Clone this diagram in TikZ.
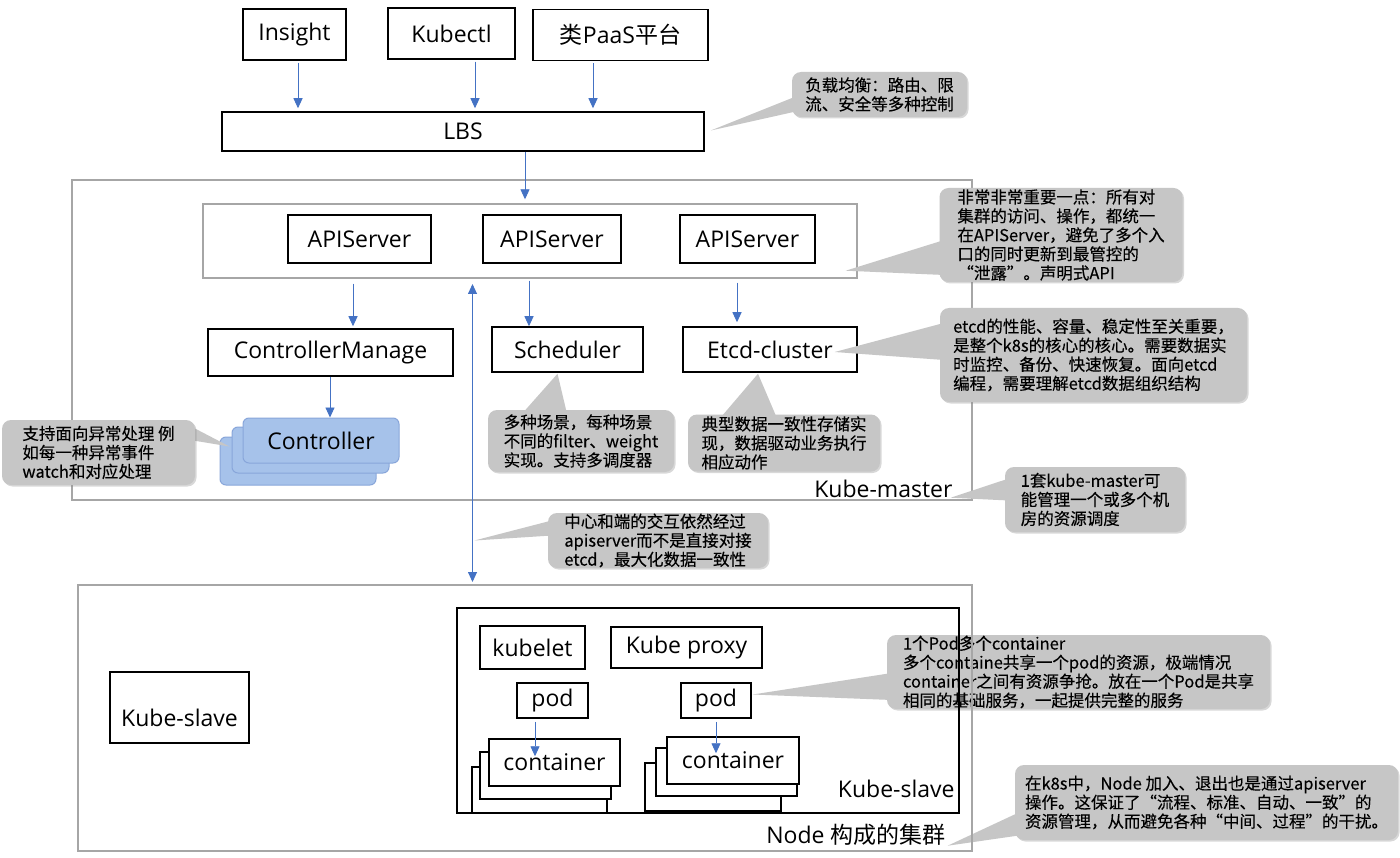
\documentclass[tikz,border=0pt]{standalone}
\usepackage{fontspec}
\setmainfont{Open Sans}
\newfontfamily\cjk{Noto Sans CJK SC}
\newfontfamily\notefont[FakeBold=0.25]{Noto Sans CJK SC}
\usetikzlibrary{arrows.meta,positioning,calc,shadows}
\definecolor{flowblue}{RGB}{68,114,196}
\definecolor{framegray}{RGB}{166,166,166}
\definecolor{notegray}{RGB}{198,198,198}
\definecolor{ctrlfill}{RGB}{166,194,234}
\definecolor{ctrldraw}{RGB}{136,166,218}
\pgfdeclarelayer{ptr}
\pgfdeclarelayer{note}
\pgfdeclarelayer{front}
\pgfsetlayers{main,ptr,note,front}

\begin{document}
\begin{tikzpicture}[x=1pt,y=-1pt,>={Triangle[width=9pt,length=10pt]},
  sz/.style 2 args={minimum width=#1pt,minimum height=#2pt},
  box/.style={draw,line width=1.5pt,fill=white,inner sep=0pt,font=\fontsize{23}{27}\selectfont},
  frame/.style={draw=framegray,line width=1.4pt,inner sep=0pt},
  ctrl/.style={draw=ctrldraw,fill=ctrlfill,line width=1pt,rounded corners=6pt,inner sep=0pt,font=\fontsize{23}{27}\selectfont},
  flow/.style={flowblue,line width=0.9pt,->},
  note/.style={fill=notegray,rounded corners=9pt,inner sep=0pt,align=left,font=\notefont\fontsize{16.5}{19}\selectfont,
    drop shadow={opacity=0.3,shadow xshift=1.5pt,shadow yshift=-1.5pt}},
  tag/.style={anchor=base east,inner sep=0pt,font=\fontsize{23}{27}\selectfont}]
\fill[white] (0,0) rectangle (1400,858);
\useasboundingbox (0,0) rectangle (1400,858);

% clients and LBS
\foreach \n/\x/\y/\w/\lbl in {insight/294.5/34.5/103/Insight,kubectl/451.5/33.5/127/Kubectl,paas/620.5/35/175/{{\cjk 类}PaaS{\cjk 平台}}}
  \node[box,sz={\w}{51}] (\n) at (\x,\y) {\lbl};
\node[box,sz={482}{39}] (lbs) at (463,131.5) {LBS};
\foreach \n/\x in {insight/298,kubectl/475,paas/593}
  \draw[flow] ($(\n.south -| \x,0)+(0,2)$) -- ($(lbs.north -| \x,0)+(0,-3)$);

% master
\node[frame,sz={900}{320}] (master) at (522,340) {};
\node[frame,sz={654}{74}] (apigrp) at (530,241) {};
\draw[flow] (lbs.south -| 525,0) -- ($(apigrp.north -| 525,0)+(0,-4)$);
\foreach \n/\x/\w in {api1/359.5/143,api2/552/138,api3/747.5/135}
  \node[box,sz={\w}{48}] (\n) at (\x,239) {APIServer};
\node[box,sz={245}{47}] (cm) at (330.5,352.5) {ControllerManage};
\node[box,sz={151}{45}] (sched) at (567.5,349.5) {Scheduler};
\node[box,sz={174}{45}] (etcd) at (770,349.5) {Etcd-cluster};
\draw[flow] ($(apigrp.south -| 353,0)+(0,5)$) -- ($(cm.north -| 353,0)+(0,-2)$);
\draw[flow] ($(apigrp.south -| 529,0)+(0,2)$) -- (sched.north -| 529,0);
\draw[flow] ($(apigrp.south -| 737,0)+(0,4)$) -- ($(etcd.north -| 737,0)+(0,-4)$);

\node[ctrl,sz={156}{48}] (ctlb) at (298,461) {};
\node[ctrl,sz={157}{46}] (ctlm) at (310.5,450) {};
\node[ctrl,sz={156}{45}] (ctlf) at (321,440.5) {Controller};
\draw[flow] (cm.south -| 330,0) -- (ctlf.north -| 330,0);
\node[tag] (mlabel) at ($(master.south east)+(-20,-3)$) {Kube-master};

\coordinate (up) at (472.5,284);
\coordinate (down) at (472.5,582);
\draw[flow,<->] (up) -- (down);

% nodes
\begin{pgfonlayer}{front}
\node[frame,sz={894}{266}] (nodes) at (525,718) {};
\node[draw,line width=1.5pt,inner sep=0pt,sz={502}{205}] (slave) at (708,710.5) {};
\end{pgfonlayer}
\node[box,sz={139}{71},text height=44pt,text depth=6pt] (kslave) at (179.5,707.5) {Kube-slave};
\node[box,sz={105}{43}] (kubelet) at (532.5,647.5) {kubelet};
\node[box,sz={151}{41}] (kproxy) at (686.5,647.5) {Kube proxy};
\node[box,sz={71}{35}] (pod1) at (552.5,700.5) {pod};
\node[box,sz={70}{35}] (pod2) at (716,700.5) {pod};
\node[box,sz={135}{46}] (c1b) at (539.5,790) {};
\node[box,sz={131}{47}] (c1m) at (545.5,775.5) {};
\node[box,sz={131}{47}] (c1f) at (554.5,762.5) {container};
\node[box,sz={136}{48}] (c2b) at (713,787) {};
\node[box,sz={141}{48}] (c2m) at (726.5,772) {};
\node[box,sz={132}{47}] (c2f) at (733,760.5) {container};
\draw[flow] ($(pod1.south)+(-17.5,3)$) -- ($(c1f.north)+(-19.5,18)$);
\draw[flow] ($(pod2.south)+(0,3)$) -- ($(c2f.north)+(-17,17)$);
\node[tag] (slabel) at ($(slave.south east)+(-5,-16)$) {Kube-slave};
\node[tag] (nlabel) at ($(nodes.south east)+(-27,-8)$) {Node {\cjk 构成的集群}};

% notes
\begin{pgfonlayer}{note}
\node[note,sz={175}{45}] (nlbs) at (879.5,94.5) {负载均衡：路由、限\\流、安全等多种控制};
\node[note,sz={243}{94}] (napi) at (1061,235) {非常非常重要一点：所有对\\集群的访问、操作，都统一\\在APIServer，避免了多个入\\口的同时更新到最管控的\\“泄露”。声明式API};
\node[note,sz={307}{94}] (netcd) at (1093.5,355) {etcd的性能、容量、稳定性至关重要，\\是整个k8s的核心的核心。需要数据实\\时监控、备份、快速恢复。面向etcd\\编程，需要理解etcd数据组织结构};
\node[note,sz={193}{65}] (nctl) at (98.5,452.5) {支持面向异常处理 例\\如每一种异常事件\\watch和对应处理};
\node[note,sz={186}{62}] (nsch) at (581,441) {多种场景，每种场景\\不同的filter、weight\\实现。支持多调度器};
\node[note,sz={192}{57}] (netl) at (784,443) {典型数据一致性存储实\\现，数据驱动业务执行\\相应动作};
\node[note,sz={180}{65}] (nkm) at (1095,499.5) {1套kube-master可\\能管理一个或多个机\\房的资源调度};
\node[note,sz={220}{55}] (nsrv) at (658,540.5) {中心和端的交互依然经过\\apiserver而不是直接对接\\etcd，最大化数据一致性};
\node[note,sz={383}{74}] (npod) at (1078.5,672) {1个Pod多个container\\多个containe共享一个pod的资源，极端情况\\container之间有资源争抢。放在一个Pod是共享\\相同的基础服务，一起提供完整的服务};
\node[note,sz={383}{75}] (nnode) at (1206.5,802.5) {在k8s中，Node 加入、退出也是通过apiserver\\操作。这保证了“流程、标准、自动、一致”的\\资源管理，从而避免各种“中间、过程”的干扰。};
\end{pgfonlayer}
\begin{pgfonlayer}{ptr}
\fill[notegray] ($(nlbs.west)+(4,2)$) -- ($(lbs.east)+(6,-1)$) -- ($(nlbs.west)+(4,17)$) -- cycle;
\fill[notegray] ($(napi.west)+(5,5)$) -- ($(apigrp.south east)+(-12,-8)$) -- ($(napi.west)+(5,40)$) -- cycle;
\fill[notegray] ($(netcd.west)+(4,-32)$) -- ($(etcd.east)+(-23,2.5)$) -- ($(netcd.west)+(4,5)$) -- cycle;
\fill[notegray] ($(nctl.east)+(-6,-27)$) -- ($(ctlb.north west)+(10,10)$) -- ($(nctl.east)+(-2,-12)$) -- cycle;
\fill[notegray] ($(nsch.north)+(-59,4)$) -- ($(sched.south)+(-10,1)$) -- ($(nsch.north)+(-14,4)$) -- cycle;
\fill[notegray] ($(netl.north)+(-64,4)$) -- ($(etcd.south)+(-12,1)$) -- ($(netl.north)+(-7,4)$) -- cycle;
\fill[notegray] ($(nkm.west)+(4,-21)$) -- ($(mlabel.base east)+(-2,0)$) -- ($(nkm.west)+(4,1)$) -- cycle;
\fill[notegray] ($(nsrv.west)+(4,-20)$) -- ($(up |- nsrv.west)+(2,0)$) -- ($(nsrv.west)+(4,-5)$) -- cycle;
\fill[notegray] ($(npod.west)+(5,1)$) -- ($(pod2.east)+(1,-6)$) -- ($(npod.west)+(5,28)$) -- cycle;
\fill[notegray] ($(nnode.west)+(4,10)$) -- ($(nlabel.base east)+(2,2)$) -- ($(nnode.west)+(4,33)$) -- cycle;
\end{pgfonlayer}
\end{tikzpicture}
\end{document}
